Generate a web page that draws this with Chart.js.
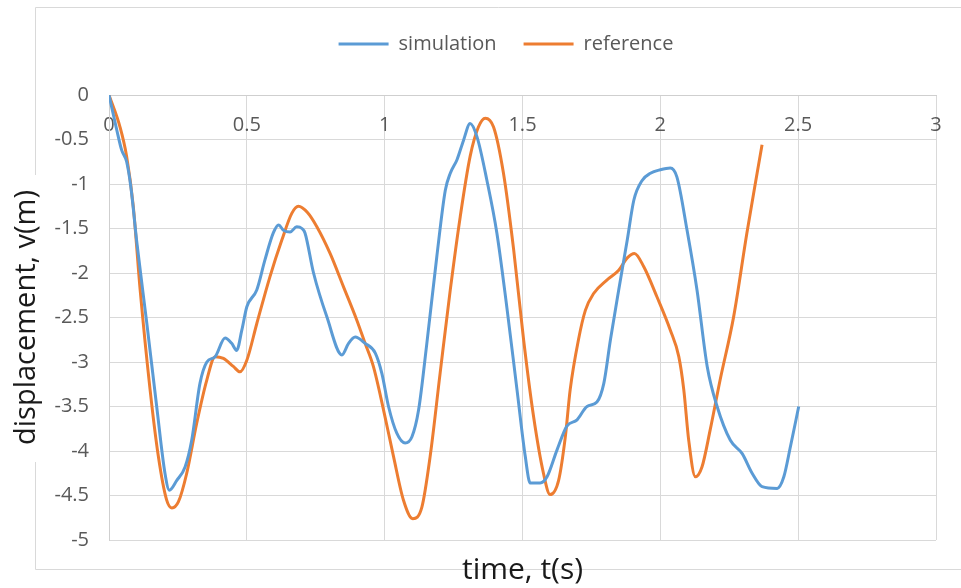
<!DOCTYPE html>
<html>
<head>
<meta charset="utf-8">
<title>displacement vs time</title>
<script src="https://cdn.jsdelivr.net/npm/chart.js@4/dist/chart.umd.min.js"></script>
<style>
  html, body { margin: 0; padding: 0; background: #fff; }
  #wrap { width: 961px; height: 588px; position: relative; }
</style>
</head>
<body>
<div id="wrap"><canvas id="myChart"></canvas></div>
<script>
// simulation run: time (s) and displacement (m)
const simTime = [
  0, 0.028, 0.046, 0.064, 0.08, 0.1, 0.137, 0.173, 0.203, 0.219, 0.246, 0.276,
  0.3, 0.33, 0.355, 0.385, 0.421, 0.445, 0.463, 0.482, 0.5, 0.536, 0.566, 0.596,
  0.615, 0.633, 0.657, 0.681, 0.7, 0.711, 0.742, 0.79, 0.845, 0.869, 0.893, 0.929,
  0.966, 0.99, 1.014, 1.044, 1.074, 1.099, 1.123, 1.153, 1.189, 1.22, 1.238, 1.262,
  1.286, 1.31, 1.335, 1.371, 1.407, 1.443, 1.48, 1.51, 1.528, 1.564, 1.589, 1.625,
  1.661, 1.698, 1.734, 1.77, 1.795, 1.819, 1.849, 1.88, 1.904, 1.934, 1.964, 2.0,
  2.036, 2.06, 2.097, 2.133, 2.17, 2.206, 2.254, 2.297, 2.333, 2.369, 2.424, 2.448,
  2.472, 2.502,
];
const simDisp = [
  0, -0.39, -0.62, -0.75, -1.05, -1.63, -2.56, -3.5, -4.25, -4.44, -4.33, -4.18,
  -3.88, -3.24, -3.0, -2.94, -2.73, -2.79, -2.87, -2.64, -2.38, -2.19, -1.85, -1.55,
  -1.46, -1.52, -1.54, -1.48, -1.5, -1.55, -2.0, -2.49, -2.92, -2.79, -2.72, -2.79,
  -2.9, -3.13, -3.5, -3.8, -3.91, -3.84, -3.54, -2.79, -1.82, -1.07, -0.88, -0.73,
  -0.51, -0.32, -0.47, -0.96, -1.55, -2.38, -3.31, -4.06, -4.36, -4.36, -4.29, -3.99,
  -3.72, -3.65, -3.5, -3.45, -3.24, -2.75, -2.19, -1.63, -1.18, -0.96, -0.88, -0.84,
  -0.82, -0.92, -1.52, -2.19, -3.05, -3.5, -3.88, -4.03, -4.25, -4.4, -4.42, -4.29,
  -3.95, -3.5,
];

// reference solution: time (s) and displacement (m)
const refTime = [
  0, 0.04, 0.064, 0.088, 0.113, 0.149, 0.179, 0.209, 0.228, 0.252, 0.282, 0.318,
  0.355, 0.385, 0.415, 0.451, 0.475, 0.5, 0.536, 0.584, 0.627, 0.663, 0.687, 0.72,
  0.754, 0.802, 0.85, 0.899, 0.929, 0.959, 0.996, 1.032, 1.068, 1.102, 1.135, 1.165,
  1.201, 1.238, 1.274, 1.31, 1.34, 1.365, 1.395, 1.431, 1.468, 1.504, 1.54, 1.576,
  1.6, 1.631, 1.655, 1.673, 1.703, 1.728, 1.758, 1.806, 1.849, 1.88, 1.906, 1.94,
  1.988, 2.036, 2.067, 2.085, 2.103, 2.127, 2.151, 2.181, 2.217, 2.266, 2.314, 2.351,
  2.369,
];
const refDisp = [
  0, -0.36, -0.69, -1.25, -2.19, -3.31, -4.06, -4.55, -4.64, -4.57, -4.25, -3.69,
  -3.2, -2.94, -2.96, -3.05, -3.11, -2.98, -2.57, -2.04, -1.63, -1.33, -1.25, -1.32,
  -1.48, -1.78, -2.15, -2.53, -2.79, -3.05, -3.54, -4.06, -4.55, -4.76, -4.63, -4.06,
  -3.13, -2.19, -1.37, -0.69, -0.36, -0.26, -0.36, -0.88, -1.74, -2.75, -3.61, -4.25,
  -4.49, -4.33, -3.85, -3.31, -2.75, -2.42, -2.23, -2.08, -1.97, -1.83, -1.78, -1.93,
  -2.27, -2.64, -2.94, -3.31, -3.88, -4.29, -4.18, -3.76, -3.2, -2.49, -1.55, -0.88,
  -0.56,
];

const seriesNames = ["simulation", "reference"];
const xTitle = "time, t(s)";
const yTitle = "displacement, v(m)";

function toPoints(ts, vs) {
  return ts.map((t, i) => ({ x: t, y: vs[i] }));
}

// plain number labels: 1, -1.5, 0 ...
const plainTick = (value) => `${value}`;

// light grey frame around the whole chart, broken where the y title sits
const chartFrame = {
  id: "chartFrame",
  beforeDraw(chart) {
    const ctx = chart.ctx;
    ctx.save();
    ctx.strokeStyle = "#d9d9d9";
    ctx.lineWidth = 1;
    ctx.beginPath();
    ctx.moveTo(35.5, 175);
    ctx.lineTo(35.5, 7.5);
    ctx.lineTo(961, 7.5);
    ctx.moveTo(35.5, 462);
    ctx.lineTo(35.5, 569.5);
    ctx.lineTo(961, 569.5);
    ctx.stroke();
    ctx.restore();
  },
};

// the frame runs past the right edge, so centre the legend on the frame
const legendCentre = {
  id: "legendCentre",
  afterLayout(chart) {
    const lg = chart.legend;
    if (!lg) return;
    const dx = 506 - (lg.left + lg.right) / 2;
    lg.left += dx;
    lg.right += dx;
  },
};

Chart.defaults.font.family = "'Open Sans', sans-serif";

const ctx = document.getElementById("myChart").getContext("2d");
const myChart = new Chart(ctx, {
  type: "line",
  data: {
    datasets: [
      {
        label: seriesNames[0],
        data: toPoints(simTime, simDisp),
        borderColor: "#5b9bd5",
        backgroundColor: "#5b9bd5",
        borderWidth: 3,
        pointRadius: 0,
        cubicInterpolationMode: "monotone",
      },
      {
        label: seriesNames[1],
        data: toPoints(refTime, refDisp),
        borderColor: "#ed7d31",
        backgroundColor: "#ed7d31",
        borderWidth: 3,
        pointRadius: 0,
        cubicInterpolationMode: "monotone",
      },
    ],
  },
  options: {
    responsive: true,
    maintainAspectRatio: false,
    animation: false,
    layout: { padding: { top: 7, left: 0, right: 25, bottom: 0 } },
    plugins: {
      legend: {
        position: "top",
        labels: {
          usePointStyle: true,
          pointStyle: "line",
          pointStyleWidth: 50,
          padding: 27,
          color: "#595959",
          font: { size: 20 },
        },
      },
      title: {
        display: true,
        position: "bottom",
        fullSize: false,
        text: xTitle,
        color: "#1a1a1a",
        font: { size: 30, weight: "normal" },
        padding: { top: 12, bottom: 0 },
      },
      tooltip: { enabled: false },
    },
    scales: {
      x: {
        type: "linear",
        position: "top",
        min: 0,
        max: 3,
        afterFit(scale) {
          scale.height = 31;
          scale.paddingLeft = 0;
          scale.paddingRight = 0;
        },
        ticks: {
          stepSize: 0.5,
          mirror: true,
          padding: 18,
          color: "#595959",
          font: { size: 20 },
          callback: plainTick,
        },
        grid: { color: "#d9d9d9", drawTicks: false },
        border: { color: "#cfcfcf" },
      },
      y: {
        min: -5,
        max: 0,
        afterFit(scale) {
          scale.width = 109;
        },
        ticks: {
          stepSize: 0.5,
          padding: 20,
          color: "#595959",
          font: { size: 20 },
          callback: plainTick,
        },
        grid: { color: "#d9d9d9", drawTicks: false },
        border: { color: "#cfcfcf" },
        title: {
          display: true,
          text: yTitle,
          color: "#1a1a1a",
          font: { size: 29 },
          padding: { top: 9.6, bottom: 4 },
        },
      },
    },
  },
  plugins: [chartFrame, legendCentre],
});
</script>
</body>
</html>
